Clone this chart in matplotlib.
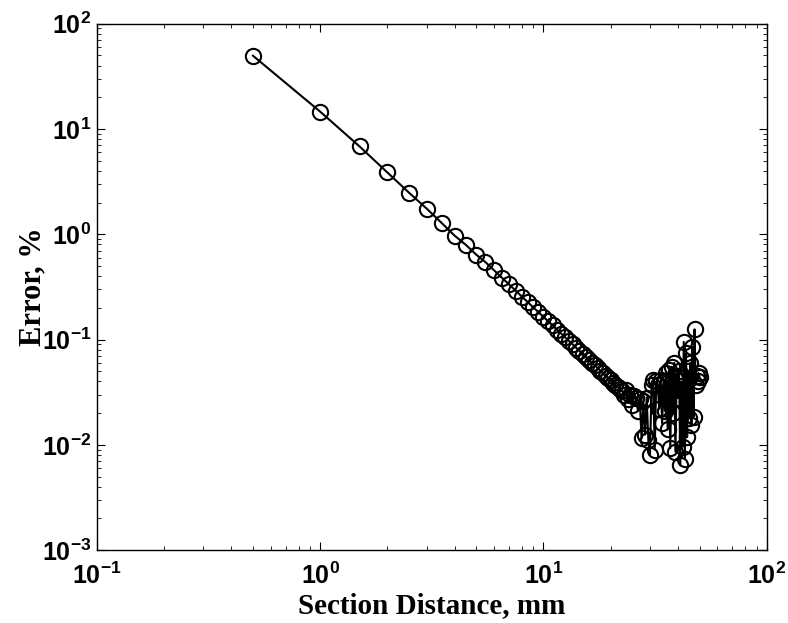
import matplotlib
matplotlib.use("Agg")
import matplotlib.pyplot as plt

# section distance, mm (0.5 to 50 in steps of 0.5)
distance = [0.5, 1.0, 1.5, 2.0, 2.5, 3.0, 3.5, 4.0, 4.5, 5.0,
            5.5, 6.0, 6.5, 7.0, 7.5, 8.0, 8.5, 9.0, 9.5, 10.0,
            10.5, 11.0, 11.5, 12.0, 12.5, 13.0, 13.5, 14.0, 14.5, 15.0,
            15.5, 16.0, 16.5, 17.0, 17.5, 18.0, 18.5, 19.0, 19.5, 20.0,
            20.5, 21.0, 21.5, 22.0, 22.5, 23.0, 23.5, 24.0, 24.5, 25.0,
            25.5, 26.0, 26.5, 27.0, 27.5, 28.0, 28.5, 29.0, 29.5, 30.0,
            30.5, 31.0, 31.5, 32.0, 32.5, 33.0, 33.5, 34.0, 34.5, 35.0,
            35.5, 36.0, 36.5, 37.0, 37.5, 38.0, 38.5, 39.0, 39.5, 40.0,
            40.5, 41.0, 41.5, 42.0, 42.5, 43.0, 43.5, 44.0, 44.5, 45.0,
            45.5, 46.0, 46.5, 47.0, 47.5, 48.0, 48.5, 49.0, 49.5, 50.0]

# error, %
error = [49.6, 14.6, 6.83, 3.86, 2.48, 1.75, 1.28, 0.97, 0.79, 0.64,
         0.543, 0.456, 0.388, 0.335, 0.292, 0.256, 0.227, 0.202, 0.182, 0.164,
         0.149, 0.136, 0.124, 0.114, 0.105, 0.097, 0.090, 0.0837, 0.078, 0.0729,
         0.0683, 0.0641, 0.0602, 0.0567, 0.0536, 0.0506, 0.0479, 0.0454, 0.0431, 0.041,
         0.039, 0.0372, 0.0355, 0.0339, 0.0324, 0.030, 0.033, 0.027, 0.030, 0.024,
         0.029, 0.028, 0.021, 0.027, 0.0115, 0.026, 0.0125, 0.028, 0.011, 0.008,
         0.037, 0.041, 0.009, 0.040, 0.037, 0.022, 0.041, 0.016, 0.040, 0.021,
         0.048, 0.014, 0.051, 0.0093, 0.055, 0.020, 0.060, 0.0086, 0.045, 0.028,
         0.050, 0.0064, 0.040, 0.0096, 0.095, 0.0074, 0.074, 0.0118, 0.050, 0.018,
         0.060, 0.0154, 0.085, 0.0185, 0.125, 0.037, 0.045, 0.040, 0.048, 0.044]

xticks = [0.1, 1, 10, 100]
xlabels = [r"$\mathbf{10^{-1}}$", r"$\mathbf{10^{0}}$", r"$\mathbf{10^{1}}$", r"$\mathbf{10^{2}}$"]
yticks = [1e-3, 1e-2, 1e-1, 1, 10, 100]
ylabels = [r"$\mathbf{10^{-3}}$", r"$\mathbf{10^{-2}}$", r"$\mathbf{10^{-1}}$",
           r"$\mathbf{10^{0}}$", r"$\mathbf{10^{1}}$", r"$\mathbf{10^{2}}$"]

plt.rcParams["mathtext.fontset"] = "custom"
plt.rcParams["mathtext.rm"] = "Liberation Sans:bold"
plt.rcParams["mathtext.bf"] = "Liberation Sans:bold"

fig = plt.figure(figsize=(7.88, 6.23), dpi=100)
ax = fig.add_axes([0.123, 0.117, 0.850, 0.845])

ax.plot(distance, error, color="black", linewidth=1.5, marker="o",
        markersize=11, markerfacecolor="none", markeredgecolor="black",
        markeredgewidth=1.5)

ax.set_xscale("log")
ax.set_yscale("log")
ax.set_xlim(0.1, 100)
ax.set_ylim(1e-3, 1e2)

ax.set_xticks(xticks)
ax.set_xticklabels(xlabels, fontsize=18)
ax.set_yticks(yticks)
ax.set_yticklabels(ylabels, fontsize=18)

ax.tick_params(which="both", direction="in", top=True, right=True)
ax.tick_params(which="major", length=6, width=0.8)
ax.tick_params(axis="x", which="major", pad=9)
ax.tick_params(axis="y", which="major", pad=4)
ax.tick_params(which="minor", length=3, width=0.6)
for s in ax.spines.values():
    s.set_linewidth(1.0)

ax.set_xlabel("Section Distance, mm", fontsize=21, fontweight="bold",
              family="Liberation Serif", labelpad=2)
ax.set_ylabel("Error, %", fontsize=22, fontweight="bold",
              family="Liberation Serif", labelpad=-4)

fig.savefig("out.png", dpi=100)
